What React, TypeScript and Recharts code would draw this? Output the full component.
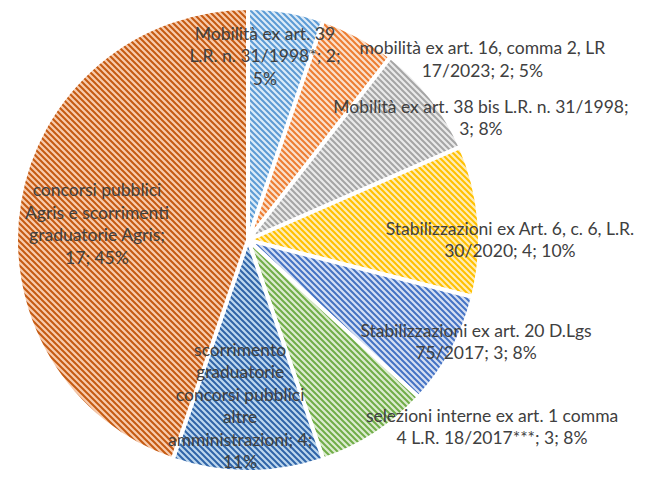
import { PieChart, Pie, Cell } from 'recharts';

const CATEGORIES = [
    'Mobilità ex art. 39 L.R. n. 31/1998*',
    'mobilità ex art. 16, comma 2, LR 17/2023',
    'Mobilità ex art. 38 bis L.R. n. 31/1998',
    'Stabilizzazioni ex Art. 6, c. 6, L.R. 30/2020',
    'Stabilizzazioni ex art. 20 D.Lgs 75/2017',
    'selezioni interne ex art. 1 comma 4 L.R. 18/2017***',
    'scorrimento graduatorie concorsi pubblici altre amministrazioni',
    'concorsi pubblici Agris e scorrimenti graduatorie Agris',
];
const COUNTS = [2, 2, 3, 4, 3, 3, 4, 17];
const PERCENTS = [5, 5, 8, 10, 8, 8, 11, 45];

const TITLE = 'Ripartizione delle assunzioni per tipologia di procedura per tipo';

// striped fills: background tint + stripe colour
const FILLS = [
    { bg: '#DDEBF7', fg: '#5B9BD5' },
    { bg: '#FBE0CC', fg: '#ED7D31' },
    { bg: '#EAEAEA', fg: '#A5A5A5' },
    { bg: '#FFEDB5', fg: '#FFC000' },
    { bg: '#D5DFF2', fg: '#4472C4' },
    { bg: '#DCEBD0', fg: '#70AD47' },
    { bg: '#BDD7EE', fg: '#2F64A8' },
    { bg: '#F8CBAD', fg: '#C55A11' },
];

// label centre relative to pie centre, in units of the radius
const LABEL_OFFSET = [
    [0.073, -0.797],
    [1.01, -0.782],
    [1.004, -0.53],
    [1.129, -0.004],
    [0.983, 0.435],
    [1.052, 0.802],
    [-0.034, 0.711],
    [-0.651, -0.073],
];
// how many words go on each label line
const LINE_WORDS = [
    [4, 4, 1],
    [7, 3],
    [8, 2],
    [7, 3],
    [5, 3],
    [6, 5],
    [1, 1, 2, 1, 2, 1],
    [2, 3, 2, 2],
];

const FONT = 'Lato, "Liberation Sans", sans-serif';
const FONT_SIZE = 17.5;
const LINE_H = 22.5;

const data = CATEGORIES.map((name, i) => ({
    name,
    value: COUNTS[i],
    text: `${name}; ${COUNTS[i]}; ${PERCENTS[i]}%`,
}));

const splitLines = (text: string, counts: number[]) => {
    const words = text.split(' ');
    const lines: string[] = [];
    let pos = 0;
    counts.forEach((n) => {
        lines.push(words.slice(pos, pos + n).join(' '));
        pos += n;
    });
    if (pos < words.length) lines.push(words.slice(pos).join(' '));
    return lines;
};

const renderLabel = (props: any) => {
    const { cx, cy, outerRadius, index } = props;
    const [fx, fy] = LABEL_OFFSET[index];
    const x = cx + fx * outerRadius;
    const y = cy + fy * outerRadius;
    const lines = splitLines(data[index].text, LINE_WORDS[index]);
    const top = y - ((lines.length - 1) * LINE_H) / 2;
    return (
        <text
            key={`lbl-${index}`}
            x={x}
            y={top}
            textAnchor="middle"
            dominantBaseline="central"
            fill="#404040"
            fontSize={FONT_SIZE}
            fontFamily={FONT}
        >
            {lines.map((l, i) => (
                <tspan key={i} x={x} y={top + i * LINE_H}>
                    {l}
                </tspan>
            ))}
        </text>
    );
};

export default function App() {
    return (
        <div
            style={{
                position: 'fixed',
                left: 0,
                top: 0,
                width: 646,
                height: 477,
                overflow: 'hidden',
                background: '#fff',
            }}
        >
            <svg width={0} height={0} style={{ position: 'absolute' }}>
                <defs>
                    {FILLS.map((f, i) => (
                        <pattern key={i} id={`stripe-${i}`} patternUnits="userSpaceOnUse" width={6} height={6}>
                            <rect width={6} height={6} fill={f.bg} />
                            <path d="M-1,-1 L7,7 M-1,5 L1,7 M5,-1 L7,1" stroke={f.fg} strokeWidth={2} />
                        </pattern>
                    ))}
                </defs>
            </svg>
            <div
                style={{
                    position: 'absolute',
                    top: -25,
                    left: -200,
                    width: 1046,
                    textAlign: 'center',
                    fontFamily: FONT,
                    fontWeight: 'bold',
                    fontSize: 24,
                    lineHeight: '24px',
                    color: '#000',
                    whiteSpace: 'nowrap',
                }}
            >
                {TITLE}
            </div>
            <PieChart width={646} height={477} margin={{ top: 0, right: 0, bottom: 0, left: 0 }}>
                <Pie
                    data={data}
                    dataKey="value"
                    nameKey="name"
                    cx={248}
                    cy={240}
                    outerRadius={232}
                    startAngle={90}
                    endAngle={-270}
                    stroke="#fff"
                    strokeWidth={4}
                    label={renderLabel}
                    labelLine={false}
                    isAnimationActive={false}
                >
                    {data.map((_, i) => (
                        <Cell key={`cell-${i}`} fill={`url(#stripe-${i})`} />
                    ))}
                </Pie>
            </PieChart>
        </div>
    );
}
